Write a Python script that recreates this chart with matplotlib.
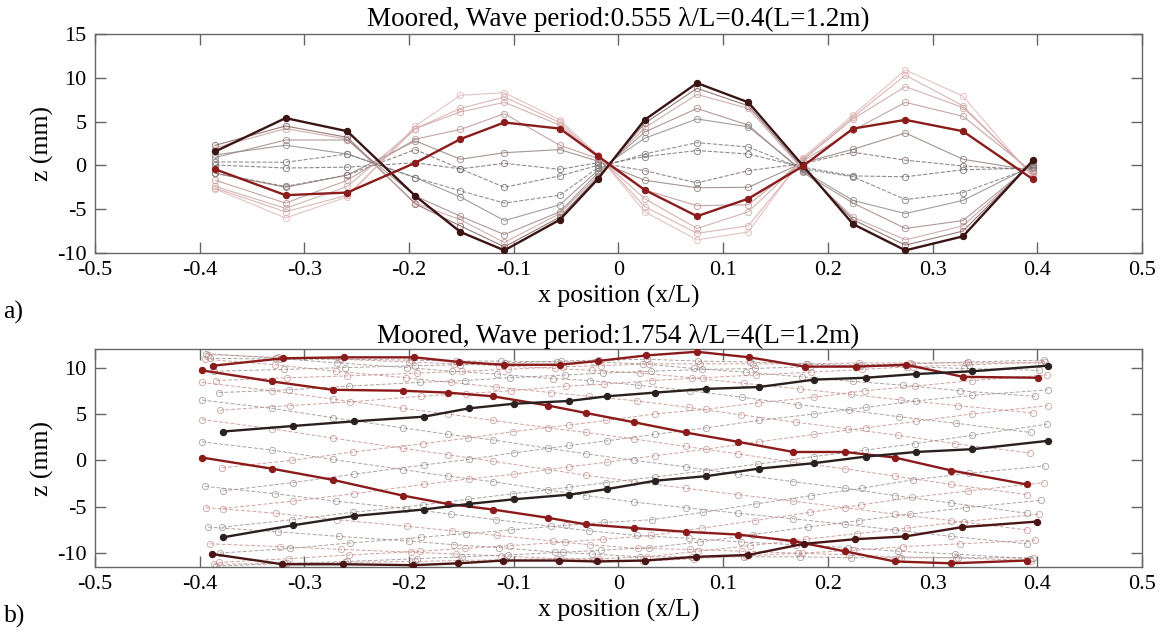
import matplotlib
matplotlib.use("Agg")
import matplotlib.pyplot as plt
import numpy as np

plt.rcParams['font.family'] = ['Liberation Serif', 'DejaVu Serif']
plt.rcParams['axes.unicode_minus'] = False

# ---- panel a) wave period 0.555, lambda/L = 0.4 ----
x_a = [-0.385, -0.318, -0.259, -0.194, -0.151, -0.109, -0.056, -0.020,
       0.025, 0.075, 0.124, 0.176, 0.224, 0.274, 0.329, 0.396]

z_a = [
    [1.6, 5.4, 3.9, -3.5, -7.6, -9.7, -6.2, -1.6, 5.2, 9.4, 7.2, 0.0, -6.7, -9.7, -8.1, 0.6],
    [2.3, 4.5, 3.2, -4.4, -6.9, -9.3, -5.9, -1.4, 4.8, 8.8, 6.8, -0.3, -6.2, -9.1, -7.5, 0.5],
    [2.0, 4.2, 3.0, -4.3, -6.2, -8.8, -5.5, -1.2, 4.3, 8.1, 6.5, -0.5, -5.9, -8.5, -6.9, 0.3],
    [0.9, 2.9, 2.9, -3.5, -5.8, -7.9, -5.3, -0.9, 3.8, 6.5, 4.6, -0.8, -4.3, -7.2, -6.3, 0.2],
    [1.2, 2.3, 1.3, -1.4, -3.6, -6.3, -4.5, -0.6, 3.1, 5.3, 4.4, -0.6, -4.0, -5.5, -4.0, 0.0],
    [0.4, 0.35, 1.3, -1.4, -2.9, -4.3, -3.4, -0.3, 1.3, 2.6, 2.1, -0.4, -1.3, -3.9, -3.1, -0.2],
    [0.05, -0.3, -0.2, 0.3, -0.4, -2.5, -1.2, 0.0, 1.0, 1.7, 1.3, -0.2, -1.2, -1.3, -0.5, -0.3],
    [-0.9, -2.4, -1.1, 1.8, -0.4, 0.24, -0.45, 0.3, -0.6, -2.0, -0.6, 0.2, 1.5, 0.6, -0.07, -0.5],
    [-0.9, -2.5, -1.1, 2.8, 0.7, 1.45, 1.8, 0.5, -1.7, -2.55, -2.5, 0.3, 1.84, 3.7, 0.7, -0.6],
    [-1.7, -4.3, -1.7, 3.0, 4.1, 5.9, 2.3, 0.8, -2.8, -4.6, -4.5, 0.5, 4.0, 7.2, 5.6, -0.8],
    [-0.45, -3.4, -3.1, 0.3, 3.0, 4.9, 4.2, 1.1, -2.8, -5.8, -3.8, -0.1, 4.2, 5.2, 3.9, -1.6],
    [-2.4, -4.9, -2.4, 4.2, 6.1, 7.2, 4.6, 1.0, -3.8, -7.2, -5.3, 0.6, 5.3, 9.0, 6.6, -1.0],
    [-2.6, -5.3, -3.4, 4.2, 6.5, 7.8, 4.9, 1.1, -4.7, -7.75, -6.9, 0.7, 5.5, 10.3, 6.8, -1.2],
    [-2.7, -6.0, -3.6, 4.5, 8.0, 8.3, 5.2, 1.2, -5.3, -8.5, -7.6, 0.9, 5.75, 10.9, 7.9, -1.4],
]
colors_a = ['#3b1414', '#7a5a5a', '#c49a9a', '#9a8080', '#8c8484', '#777777', '#6e6e6e',
            '#7a6a6a', '#8e7a7a', '#b89090', '#8b1c1c', '#c9a0a0', '#d4a5a5', '#e0b4b4']
styles_a = ['-', '-', '-', '-', '-', '--', '--', '--', '-', '-', '-', '-', '-', '-']
bold_a = [0, 10]

# ---- panel b) wave period 1.754, lambda/L = 4 ----
x_b = [-0.398, -0.331, -0.273, -0.206, -0.163, -0.120, -0.067, -0.031,
       0.015, 0.064, 0.114, 0.167, 0.216, 0.264, 0.318, 0.390]

surge_b = [0.011, 0.008, 0.006, 0.004, 0.003, 0.0, 0.0, 0.0, 0.0, 0.0,
           0.0, 0.003, 0.004, 0.006, 0.008, 0.010, 0.012, 0.014, 0.016, 0.017,
           0.020, 0.0195, 0.020, 0.020, 0.0195, 0.020, 0.017, 0.016, 0.014, 0.012]

z_b = [
    [10.2, 11.0, 11.1, 11.1, 10.6, 10.3, 10.3, 10.7, 11.3, 11.7, 11.1, 10.1, 10.1, 10.3, 9.0, 8.9],
    [11.0, 10.9, 10.9, 10.8, 10.7, 10.7, 10.6, 10.6, 10.4, 9.9, 9.5, 9.0, 8.5, 8.1, 7.5, 6.9],
    [11.4, 11.1, 10.9, 10.6, 10.4, 10.2, 9.9, 9.7, 9.4, 8.9, 8.3, 7.7, 7.1, 6.5, 5.9, 5.1],
    [11.5, 11.0, 10.5, 10.0, 9.6, 9.3, 8.8, 8.6, 8.1, 7.5, 6.8, 6.0, 5.4, 4.7, 4.0, 3.0],
    [10.9, 10.3, 9.6, 8.9, 8.4, 7.9, 7.3, 6.9, 6.4, 5.7, 4.9, 4.1, 3.4, 2.7, 1.8, 0.8],
    [9.7, 8.5, 7.6, 7.5, 7.3, 6.9, 5.9, 5.1, 4.1, 3.0, 2.0, 0.9, 0.9, 0.3, -1.1, -2.6],
    [8.4, 7.5, 6.6, 5.6, 5.0, 4.3, 3.5, 3.0, 2.3, 1.5, 0.7, -0.2, -0.9, -1.7, -2.6, -3.7],
    [6.5, 5.6, 4.6, 3.5, 2.8, 2.2, 1.3, 0.7, 0.0, -0.7, -1.5, -2.3, -3.0, -3.8, -4.6, -5.7],
    [4.4, 3.4, 2.4, 1.3, 0.6, -0.1, -1.0, -1.6, -2.3, -3.0, -3.7, -4.4, -5.1, -5.8, -6.5, -7.5],
    [2.0, 1.1, 0.1, -1.0, -1.7, -2.3, -3.2, -3.8, -4.5, -5.1, -5.7, -6.3, -6.9, -7.5, -8.2, -9.0],
    [0.3, -0.9, -2.1, -3.8, -4.7, -5.3, -6.2, -6.9, -7.3, -7.7, -8.0, -8.7, -9.8, -10.9, -11.1, -10.8],
    [-2.8, -3.6, -4.4, -5.2, -5.8, -6.4, -7.1, -7.6, -8.1, -8.4, -8.8, -9.1, -9.4, -9.8, -10.1, -10.6],
    [-5.1, -5.7, -6.4, -7.1, -7.6, -8.1, -8.7, -9.1, -9.5, -9.6, -9.8, -10.0, -10.2, -10.4, -10.5, -10.8],
    [-7.2, -7.7, -8.2, -8.7, -9.1, -9.4, -9.9, -10.1, -10.4, -10.4, -10.4, -10.4, -10.5, -10.5, -10.5, -10.5],
    [-9.0, -9.3, -9.6, -9.9, -10.1, -10.3, -10.6, -10.7, -10.9, -10.6, -10.3, -10.0, -9.7, -9.3, -9.0, -8.6],
    [-10.1, -11.2, -11.2, -11.3, -11.1, -10.8, -10.8, -10.9, -10.8, -10.4, -10.2, -9.0, -8.5, -8.2, -7.2, -6.6],
    [-11.2, -11.1, -11.0, -10.9, -10.8, -10.7, -10.6, -10.6, -10.4, -9.8, -9.2, -8.5, -7.9, -7.3, -6.6, -5.8],
    [-11.4, -11.1, -10.9, -10.6, -10.4, -10.2, -9.9, -9.7, -9.4, -8.8, -8.0, -7.2, -6.5, -5.8, -5.1, -4.3],
    [-11.0, -10.6, -10.2, -9.8, -9.5, -9.2, -8.8, -8.5, -8.1, -7.3, -6.5, -5.6, -4.8, -4.0, -3.3, -2.4],
    [-10.0, -9.5, -8.9, -8.3, -7.9, -7.5, -7.0, -6.7, -6.4, -5.6, -4.7, -3.8, -3.0, -2.1, -1.4, -0.6],
    [-8.3, -7.0, -6.0, -5.3, -4.7, -4.2, -3.7, -3.1, -2.2, -1.7, -0.9, -0.3, 0.4, 0.9, 1.2, 2.1],
    [-7.2, -6.4, -5.6, -4.8, -4.2, -3.6, -2.9, -2.4, -1.8, -1.1, -0.4, 0.4, 1.1, 1.8, 2.7, 3.9],
    [-5.2, -4.4, -3.6, -2.6, -2.0, -1.5, -0.7, -0.2, 0.5, 1.2, 2.0, 2.8, 3.5, 4.2, 5.0, 5.9],
    [-3.3, -2.4, -1.5, -0.5, 0.1, 0.8, 1.6, 2.1, 2.8, 3.5, 4.3, 5.0, 5.7, 6.4, 7.0, 7.6],
    [-0.8, 0.0, 0.9, 1.8, 2.4, 3.1, 3.8, 4.3, 5.0, 5.5, 6.2, 6.8, 7.5, 8.0, 8.6, 9.2],
    [3.1, 3.7, 4.2, 4.7, 5.6, 6.1, 6.4, 6.9, 7.3, 7.7, 7.9, 8.7, 8.9, 9.3, 9.6, 10.2],
    [5.4, 5.9, 6.3, 6.9, 7.2, 7.5, 8.0, 8.2, 8.6, 8.9, 9.2, 9.5, 9.8, 10.1, 10.3, 10.6],
    [7.3, 7.6, 8.0, 8.4, 8.6, 8.9, 9.2, 9.4, 9.6, 9.8, 9.9, 10.1, 10.3, 10.4, 10.6, 10.8],
    [8.6, 8.9, 9.1, 9.4, 9.6, 9.8, 10.1, 10.2, 10.4, 10.4, 10.4, 10.4, 10.5, 10.5, 10.5, 10.5],
    [9.6, 9.8, 10.0, 10.2, 10.3, 10.5, 10.7, 10.8, 10.9, 10.7, 10.6, 10.4, 10.2, 10.1, 9.9, 9.7],
]
bold_b = {0: '#8b1a1a', 5: '#8b1a1a', 10: '#8b1a1a', 15: '#4a1515', 20: '#2a2020', 25: '#2a2020'}


def style_axes(ax):
    for s in ax.spines.values():
        s.set_color('#666666')
        s.set_linewidth(1.0)
    ax.tick_params(direction='in', length=8, width=1, color='#666666',
                   top=True, right=True, labelsize=16, pad=6)
    ax.set_xlim(-0.5, 0.5)
    ax.set_xticks(np.arange(-0.5, 0.51, 0.1))
    ax.set_xticklabels(['-0.5', '-0.4', '-0.3', '-0.2', '-0.1', '0', '0.1', '0.2', '0.3', '0.4', '0.5'])
    ax.set_xlabel('x position (x/L)', fontsize=18.5, labelpad=3)
    ax.set_ylabel('z (mm)', fontsize=18.5, labelpad=2)


fig = plt.figure(figsize=(11.64, 6.32), dpi=100)
ax1 = fig.add_axes([0.0816, 0.5997, 0.8995, 0.3465])
ax2 = fig.add_axes([0.0816, 0.1028, 0.8995, 0.3450])

# panel a
for i, z in enumerate(z_a):
    if i in bold_a:
        continue
    ax1.plot(x_a, z, ls=styles_a[i], color=colors_a[i], lw=0.8, alpha=0.8,
             marker='o', ms=4.5, mfc='none', mec=colors_a[i], mew=0.7)
for i in bold_a:
    ax1.plot(x_a, z_a[i], ls='-', color=colors_a[i], lw=1.7, zorder=5,
             marker='o', ms=4.5, mfc=colors_a[i], mec=colors_a[i], mew=0.8)
style_axes(ax1)
ax1.set_ylim(-10, 15)
ax1.set_yticks([-10, -5, 0, 5, 10, 15])
ax1.set_title('Moored, Wave period:0.555 λ/L=0.4(L=1.2m)', fontsize=19.5, pad=6)

# panel b
for i, z in enumerate(z_b):
    if i in bold_b:
        continue
    xs = [v + surge_b[i] for v in x_b]
    c = '#c48c8c' if i % 2 == 0 else '#9a8a8a'
    ax2.plot(xs, z, ls=(0, (4, 2)), color=c, lw=0.7, alpha=0.8,
             marker='o', ms=4.5, mfc='none', mec=c, mew=0.6)
for i, c in bold_b.items():
    xs = [v + surge_b[i] for v in x_b]
    ax2.plot(xs, z_b[i], ls='-', color=c, lw=1.7, zorder=5,
             marker='o', ms=4.5, mfc=c, mec=c, mew=0.8)
style_axes(ax2)
ax2.set_ylim(-11.5, 12)
ax2.set_yticks([-10, -5, 0, 5, 10])
ax2.set_title('Moored, Wave period:1.754 λ/L=4(L=1.2m)', fontsize=19.5, pad=4)

fig.text(0.003, 0.505, 'a)', fontsize=18.5, va='center', ha='left')
fig.text(0.003, 0.006, 'b)', fontsize=18.5, va='bottom', ha='left')

fig.savefig('out.png', dpi=100)
